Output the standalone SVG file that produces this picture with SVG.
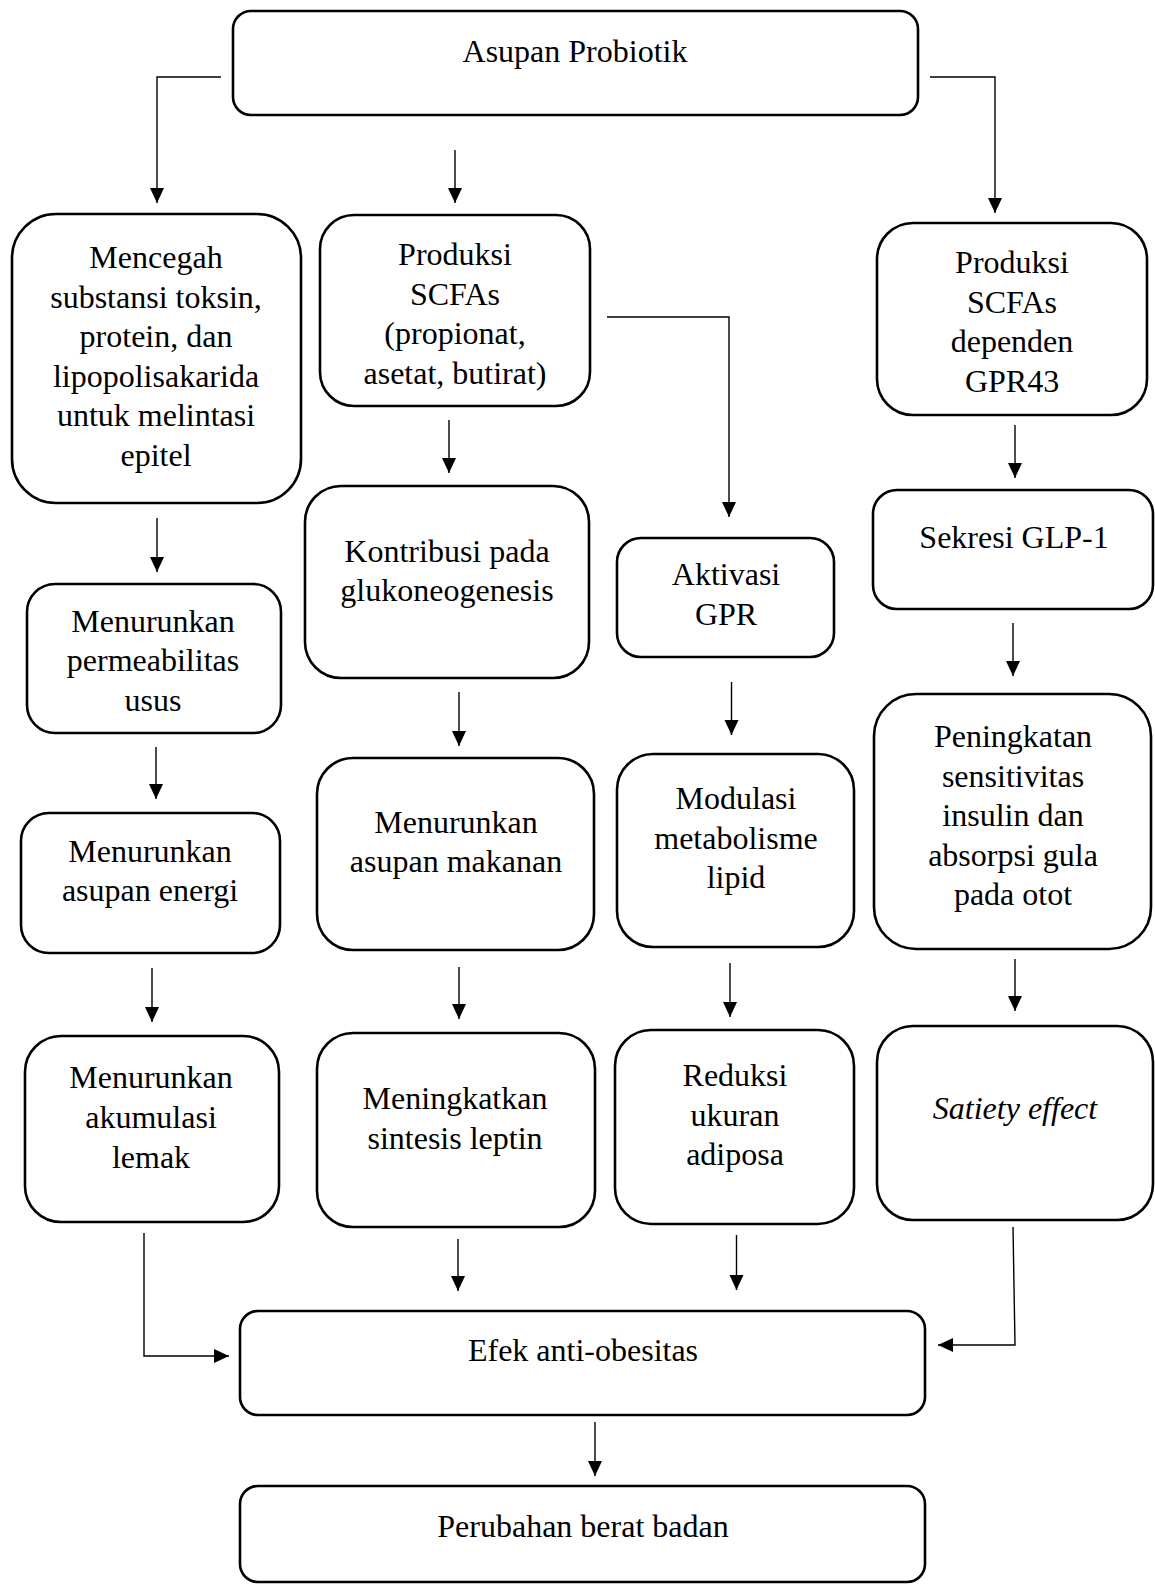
<svg xmlns="http://www.w3.org/2000/svg" width="1155" height="1584" viewBox="0 0 1155 1584">
<style>
.box{fill:#fff;stroke:#000;stroke-width:2.6}
.t{font-family:"Liberation Serif","Times New Roman",serif;font-size:32px;fill:#000;text-anchor:middle}
.i{font-style:italic}
.c{fill:none;stroke:#000;stroke-width:1.4}
</style>
<defs>
<marker id="ah" markerUnits="userSpaceOnUse" markerWidth="16" markerHeight="15" refX="15" refY="7" orient="auto">
<path d="M0,0 L15,7 L0,14 Z" fill="#000"/>
</marker>
</defs>
<rect width="1155" height="1584" fill="#fff"/>
<g id="n-asupan"><rect class="box" x="233" y="11" width="685" height="104" rx="18"/><text class="t" x="575" y="62">Asupan Probiotik</text></g>
<g id="n-mencegah"><rect class="box" x="12" y="214" width="289" height="289" rx="44"/><text class="t" x="156" y="268">Mencegah</text><text class="t" x="156" y="307.5">substansi toksin,</text><text class="t" x="156" y="347">protein, dan</text><text class="t" x="156" y="386.5">lipopolisakarida</text><text class="t" x="156" y="426">untuk melintasi</text><text class="t" x="156" y="465.5">epitel</text></g>
<g id="n-scfa1"><rect class="box" x="320" y="215" width="270" height="191" rx="34"/><text class="t" x="455" y="265">Produksi</text><text class="t" x="455" y="304.5">SCFAs</text><text class="t" x="455" y="344">(propionat,</text><text class="t" x="455" y="383.5">asetat, butirat)</text></g>
<g id="n-scfa2"><rect class="box" x="877" y="223" width="270" height="192" rx="36"/><text class="t" x="1012" y="273">Produksi</text><text class="t" x="1012" y="313">SCFAs</text><text class="t" x="1012" y="352">dependen</text><text class="t" x="1012" y="392">GPR43</text></g>
<g id="n-perm"><rect class="box" x="27" y="584" width="254" height="149" rx="28"/><text class="t" x="153" y="632">Menurunkan</text><text class="t" x="153" y="671">permeabilitas</text><text class="t" x="153" y="711">usus</text></g>
<g id="n-kontribusi"><rect class="box" x="305" y="486" width="284" height="192" rx="36"/><text class="t" x="447" y="562">Kontribusi pada</text><text class="t" x="447" y="601">glukoneogenesis</text></g>
<g id="n-aktivasi"><rect class="box" x="617" y="538" width="217" height="119" rx="24"/><text class="t" x="726" y="585">Aktivasi</text><text class="t" x="726" y="625">GPR</text></g>
<g id="n-sekresi"><rect class="box" x="873" y="490" width="280" height="119" rx="24"/><text class="t" x="1014" y="548">Sekresi GLP-1</text></g>
<g id="n-energi"><rect class="box" x="21" y="813" width="259" height="140" rx="28"/><text class="t" x="150" y="862">Menurunkan</text><text class="t" x="150" y="901">asupan energi</text></g>
<g id="n-makanan"><rect class="box" x="317" y="758" width="277" height="192" rx="36"/><text class="t" x="456" y="833">Menurunkan</text><text class="t" x="456" y="872">asupan makanan</text></g>
<g id="n-modulasi"><rect class="box" x="617" y="754" width="237" height="193" rx="36"/><text class="t" x="736" y="809">Modulasi</text><text class="t" x="736" y="849">metabolisme</text><text class="t" x="736" y="888">lipid</text></g>
<g id="n-peningkatan"><rect class="box" x="874" y="694" width="277" height="255" rx="42"/><text class="t" x="1013" y="747">Peningkatan</text><text class="t" x="1013" y="787">sensitivitas</text><text class="t" x="1013" y="826">insulin dan</text><text class="t" x="1013" y="866">absorpsi gula</text><text class="t" x="1013" y="905">pada otot</text></g>
<g id="n-akumulasi"><rect class="box" x="25" y="1036" width="254" height="186" rx="36"/><text class="t" x="151" y="1088">Menurunkan</text><text class="t" x="151" y="1128">akumulasi</text><text class="t" x="151" y="1168">lemak</text></g>
<g id="n-leptin"><rect class="box" x="317" y="1033" width="278" height="194" rx="36"/><text class="t" x="455" y="1109">Meningkatkan</text><text class="t" x="455" y="1149">sintesis leptin</text></g>
<g id="n-reduksi"><rect class="box" x="615" y="1030" width="239" height="194" rx="36"/><text class="t" x="735" y="1086">Reduksi</text><text class="t" x="735" y="1126">ukuran</text><text class="t" x="735" y="1165">adiposa</text></g>
<g id="n-satiety"><rect class="box" x="877" y="1026" width="276" height="194" rx="36"/><text class="t i" x="1015" y="1119">Satiety effect</text></g>
<g id="n-efek"><rect class="box" x="240" y="1311" width="685" height="104" rx="18"/><text class="t" x="583" y="1361">Efek anti-obesitas</text></g>
<g id="n-perubahan"><rect class="box" x="240" y="1486" width="685" height="96" rx="18"/><text class="t" x="583" y="1537">Perubahan berat badan</text></g>
<g id="connectors">
<polyline class="c" points="221,77 157,77 157,203" marker-end="url(#ah)"/>
<line class="c" x1="455" y1="150" x2="455" y2="203" marker-end="url(#ah)"/>
<polyline class="c" points="930,77 995,77 995,213" marker-end="url(#ah)"/>
<polyline class="c" points="607,317 729,317 729,517" marker-end="url(#ah)"/>
<line class="c" x1="449" y1="420" x2="449" y2="473" marker-end="url(#ah)"/>
<line class="c" x1="157" y1="518" x2="157" y2="572" marker-end="url(#ah)"/>
<line class="c" x1="1015" y1="425" x2="1015" y2="478" marker-end="url(#ah)"/>
<line class="c" x1="156" y1="747" x2="156" y2="799" marker-end="url(#ah)"/>
<line class="c" x1="459" y1="692" x2="459" y2="746" marker-end="url(#ah)"/>
<line class="c" x1="731.5" y1="682" x2="731.5" y2="735" marker-end="url(#ah)"/>
<line class="c" x1="1013" y1="623" x2="1013" y2="676" marker-end="url(#ah)"/>
<line class="c" x1="152" y1="968" x2="152" y2="1022" marker-end="url(#ah)"/>
<line class="c" x1="459" y1="967" x2="459" y2="1019" marker-end="url(#ah)"/>
<line class="c" x1="730" y1="963" x2="730" y2="1017" marker-end="url(#ah)"/>
<line class="c" x1="1015" y1="959" x2="1015" y2="1011" marker-end="url(#ah)"/>
<polyline class="c" points="144,1233 144,1356 229,1356" marker-end="url(#ah)"/>
<line class="c" x1="458" y1="1239" x2="458" y2="1291" marker-end="url(#ah)"/>
<line class="c" x1="736.5" y1="1235" x2="736.5" y2="1290" marker-end="url(#ah)"/>
<polyline class="c" points="1013,1227 1015,1345 938,1345" marker-end="url(#ah)"/>
<line class="c" x1="595" y1="1422" x2="595" y2="1476" marker-end="url(#ah)"/>
</g>
</svg>
